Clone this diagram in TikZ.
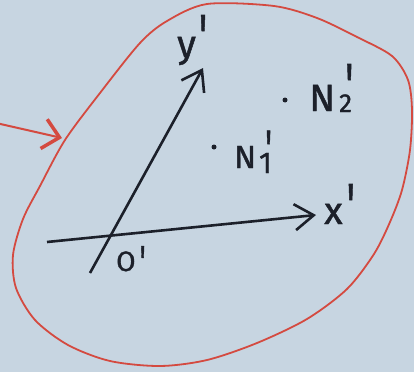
\documentclass[tikz,border=0pt]{standalone}
\usepackage{fontspec}
\setmainfont{Fira Sans}[FakeBold=1.2]
\usetikzlibrary{arrows.meta, positioning}
\definecolor{paper}{RGB}{199,213,225}
\definecolor{inkred}{RGB}{212,74,64}
\definecolor{ink}{RGB}{28,32,42}
% prime: optional shift, then raise
\newcommand{\pr}[2][0pt]{\hspace{#1}\raisebox{#2}{\scalebox{1}[1.6]{\textquotesingle}}}
% lowered subscript of given size
\newcommand{\lowsub}[3]{\rlap{\raisebox{#1}{\fontsize{#2}{#2}\selectfont #3}}}

\begin{document}
\begin{tikzpicture}[x=1pt, y=-1pt,
  axis/.style={-{Straight Barb[length=19pt, width=26pt]}, line width=2.6pt, ink},
  lbl/.style={font=\fontsize{38}{40}\selectfont, text=ink, inner sep=0pt, anchor=base west},
  pt/.style={circle, fill=ink, inner sep=0pt, minimum size=5pt}
]
  \fill[paper] (0,0) rectangle (414,372);
  \useasboundingbox (0,0) rectangle (414,372);

  % the region
  \draw[inkred, line width=1.8pt] plot[smooth cycle, tension=0.5] coordinates {
    (207,4) (274,6) (317,18) (357,37) (392,56) (408,80) (412,110) (410,150)
    (402,190) (390,222) (374,254) (347,289) (307,319) (257,343) (207,360)
    (160,366) (110,361) (68,345) (35,320) (16,288) (13,255) (23,219) (40,186)
    (65,140) (100,93) (140,43) (167,21)};
  \coordinate (tail) at (-4,123);
  \coordinate (hit) at (62,138);
  \draw[inkred, line width=2pt, -{Straight Barb[length=16pt, width=30pt, line width=3.5pt]}] (tail) -- (hit);

  % axes
  \coordinate (xs) at (47,242);
  \coordinate (xe) at (316,215);
  \coordinate (ys) at (90,273);
  \coordinate (ye) at (203,68);
  \draw[axis] (xs) -- (xe);
  \draw[axis] (ys) -- (ye);

  \node[lbl] (xlab) at (324,224) {x\pr[4pt]{-2pt}};
  \node[lbl] (ylab) at (177,57) {y\pr[3pt]{0pt}};
  \node[lbl, font=\fontsize{28}{30}\selectfont] (olab) at (116,271) {O\pr[4pt]{-6pt}};

  % points
  \node[pt] (n1) at (214,147) {};
  \node[pt] (n2) at (285,100) {};
  \node[lbl, font=\fontsize{32}{34}\selectfont] (n1lab) at (234,168)
    {N\hspace{3pt}\lowsub{-5pt}{30}{1}\pr[6pt]{2pt}};
  \node[lbl] (n2lab) at (309,111)
    {N\hspace{4pt}\lowsub{-1pt}{26}{2}\pr[6pt]{5pt}};
\end{tikzpicture}
\end{document}
